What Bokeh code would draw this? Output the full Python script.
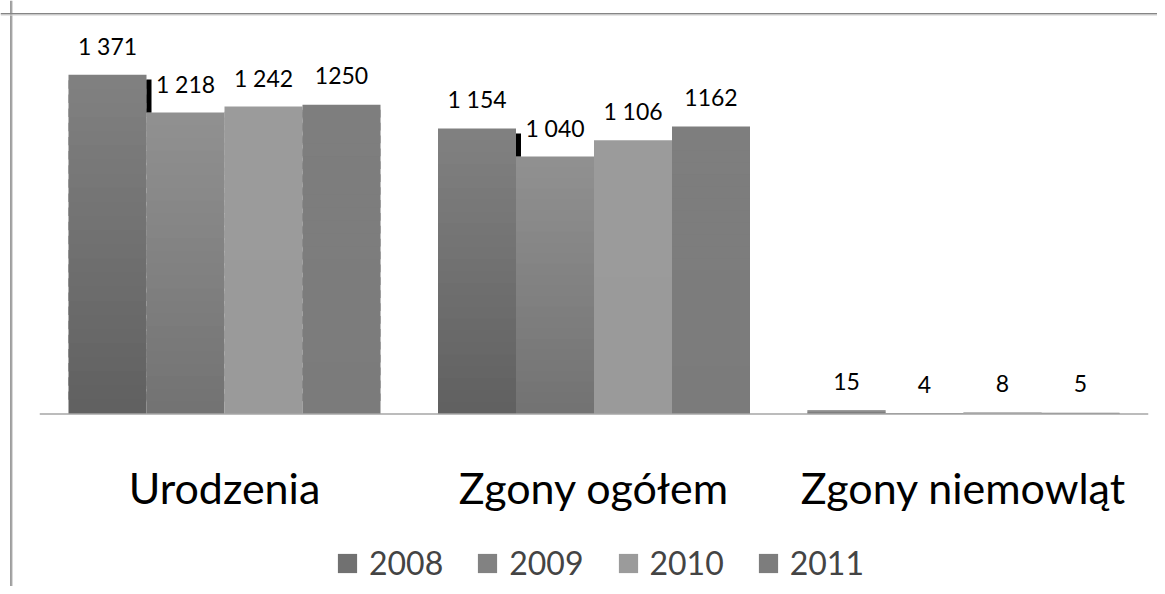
from bokeh.plotting import figure
from bokeh.models import (ColumnDataSource, Range1d, Span, LabelSet, Legend, LegendItem)
from bokeh.core.properties import value
from bokeh.embed import file_html
from bokeh.resources import INLINE

# ---- data ----
categories = ["Urodzenia", "Zgony ogółem", "Zgony niemowląt"]
years = ["2008", "2009", "2010", "2011"]
v2008 = [1371, 1154, 15]
v2009 = [1218, 1040, 4]
v2010 = [1242, 1106, 8]
v2011 = [1250, 1162, 5]
lbl2008 = ["1 371", "1 154", "15"]
lbl2009 = ["1 218", "1 040", "4"]
lbl2010 = ["1 242", "1 106", "8"]
lbl2011 = ["1250", "1162", "5"]

series_values = [v2008, v2009, v2010, v2011]
series_labels = [lbl2008, lbl2009, lbl2010, lbl2011]

# ---- style ----
W, H = 1157, 586
PXX = 369.5          # px per category
PYY = 0.2475         # px per unit
X_CENTER0 = 224      # canvas x of first category centre
Y_ZERO = 413.5       # canvas y of value 0
BW = 78 / PXX        # bar width
FONT = "Lato"
# (bottom colour, top colour) per series
grad = [("#606060", "#818181"), ("#727272", "#919191"),
        ("#9a9a9a", "#9b9b9b"), ("#7b7b7b", "#7e7e7e")]
NSEG = 24
# leader lines (series index 1) length in px per category
leader_px = {0: 33, 1: 23}

x0 = -X_CENTER0 / PXX
x1 = (W - X_CENTER0) / PXX
y1 = Y_ZERO / PYY
y0 = -(H - Y_ZERO) / PYY

p = figure(width=W, height=H, output_backend="svg", toolbar_location=None,
           x_range=Range1d(x0, x1), y_range=Range1d(y0, y1),
           x_axis_type=None, y_axis_type=None,
           min_border=0, min_border_left=0, min_border_right=0,
           min_border_top=0, min_border_bottom=0)
p.outline_line_color = None
p.grid.visible = False
p.background_fill_color = "white"
p.border_fill_color = "white"


def hex2rgb(h):
    return tuple(int(h[i:i + 2], 16) for i in (1, 3, 5))


def mix(a, b, t):
    ra, rb = hex2rgb(a), hex2rgb(b)
    return "#%02x%02x%02x" % tuple(round(ra[i] + (rb[i] - ra[i]) * t) for i in range(3))


renderers = []
for j, vals in enumerate(series_values):
    xs, bots, tops, cols = [], [], [], []
    for c, v in enumerate(vals):
        xc = c + (j - 1.5) * BW
        for k in range(NSEG):
            xs.append(xc)
            bots.append(v * k / NSEG)
            # overlap into the next segment to hide seams
            tops.append(v * min(k + 1.6, NSEG) / NSEG)
            cols.append(mix(grad[j][0], grad[j][1], (k + 0.5) / NSEG))
    src = ColumnDataSource(dict(x=xs, bottom=bots, top=tops, color=cols))
    r = p.vbar(x="x", bottom="bottom", top="top", width=BW, source=src,
               fill_color="color", line_color=None)
    renderers.append(r)

    lsrc = ColumnDataSource(dict(x=[c + (j - 1.5) * BW for c in range(len(vals))],
                                 y=vals, t=series_labels[j]))
    p.add_layout(LabelSet(x="x", y="y", text="t", source=lsrc, y_offset=29,
                          text_align="center", text_baseline="middle",
                          text_font=value(FONT), text_font_size="23px", text_color="black"))

# leader lines next to the 2009 labels
lx, lb, lt = [], [], []
for c, ln in leader_px.items():
    lx.append(c + (1 - 1.5) * BW - BW / 2 + 2.5 / PXX)
    lb.append(v2009[c])
    lt.append(v2009[c] + ln / PYY)
p.vbar(x=lx, bottom=lb, top=lt, width=5 / PXX, fill_color="black", line_color=None)

# category axis line
p.segment(x0=[-0.5], x1=[len(categories) - 0.5], y0=[0], y1=[0],
          line_color="#a6a6a6", line_width=1.3)

# category labels
csrc = ColumnDataSource(dict(x=list(range(len(categories))), y=[0] * len(categories),
                             t=categories))
p.add_layout(LabelSet(x="x", y="y", text="t", source=csrc, y_offset=-89.5,
                      text_align="center", text_baseline="alphabetic",
                      text_font=value(FONT), text_font_size="43px", text_color="black"))

# chart frame (left and top edges)
p.add_layout(Span(location=x0 + 10.5 / PXX, dimension="height",
                  line_color="#858585", line_width=1.6))
p.add_layout(Span(location=x0 + 11.8 / PXX, dimension="height",
                  line_color="#d0d0d0", line_width=1))
p.add_layout(Span(location=y1 - 13.3 / PYY, dimension="width",
                  line_color="#858585", line_width=1.6))
p.add_layout(Span(location=y1 - 14.6 / PYY, dimension="width",
                  line_color="#d6d6d6", line_width=1))

legend = Legend(items=[LegendItem(label=years[j], renderers=[renderers[j]], index=NSEG // 2)
                       for j in range(len(years))],
                orientation="horizontal", location=(335, 4),
                padding=0, margin=0, spacing=32,
                glyph_width=24, glyph_height=24, label_standoff=10,
                label_text_font=FONT, label_text_font_size="32px",
                label_text_baseline="middle",
                border_line_alpha=0, background_fill_alpha=0)
p.add_layout(legend)

open("out.html", "w").write(file_html(p, INLINE))
